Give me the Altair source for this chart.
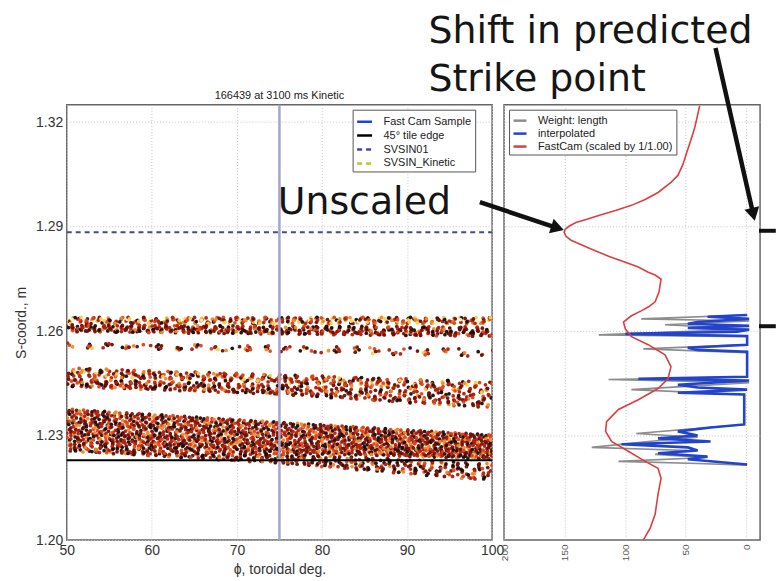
import altair as alt
import numpy as np
import pandas as pd

# ---------------- values ----------------
LEFT_TITLE = "166439 at 3100 ms Kinetic"
phi_ticks = [50, 60, 70, 80, 90, 100]
s_ticks = [1.20, 1.23, 1.26, 1.29, 1.32]
s_grid = [1.23, 1.26, 1.29, 1.32]
v_ticks = [200, 150, 100, 50, 0]

# left legend / reference lines
left_series = ["Fast Cam Sample", "45° tile edge", "SVSIN01", "SVSIN_Kinetic"]
left_colours = ["#2244dd", "#000000", "#4646a8", "#c2c22a"]
left_dashes = [[1, 0], [1, 0], [5, 4], [5, 4]]
fast_cam_phi = 75.0
tile_edge_s = 1.2229
svsin01_s = 1.2884

# strike-point scatter bands: lower / upper S edge at phi = 50, 75, 100 deg
band_phi_knots = [50, 75, 100]
band_lo = [[1.2621, 1.2621, 1.2621],
           [1.2598, 1.2591, 1.2584],
           [1.2552, 1.2540, 1.2526],
           [1.2469, 1.2452, 1.2420],
           [1.2440, 1.2418, 1.2378],
           [1.2283, 1.2249, 1.2232],
           [1.2255, 1.2220, 1.2169]]
band_hi = [[1.2640, 1.2640, 1.2640],
           [1.2618, 1.2615, 1.2612],
           [1.2566, 1.2558, 1.2549],
           [1.2495, 1.2475, 1.2455],
           [1.2463, 1.2446, 1.2418],
           [1.2378, 1.2340, 1.2303],
           [1.2283, 1.2249, 1.2220]]
band_count = [340, 440, 110, 360, 400, 1400, 460]
band_colour_pattern = ["5341250362143052416321453023154",
                       "1021320141023112031201410231021",
                       "21304215031240213",
                       "23142503124302514213",
                       "12031204132102310412",
                       "1203214012310241320142103",
                       "1023140213021031402"]
# hand-typed scatter offsets across a band (fraction of band width) and along phi
scatter_t = [0.52, 0.13, 0.88, 0.36, 0.71, 0.05, 0.94, 0.27, 0.61, 0.42, 0.83, 0.19,
             0.67, 0.31, 0.98, 0.09, 0.57, 0.75, 0.23, 0.46, 0.90, 0.02, 0.64, 0.38,
             0.80, 0.15, 0.55, 0.29, 0.96, 0.49, 0.11, 0.73, 0.34, 0.86, 0.07, 0.60, 0.25]
scatter_dphi = [0.3, -1.2, 0.9, -0.4, 1.4, -0.8, 0.1, 1.1, -1.4, 0.6, -0.1, 1.3,
                -0.6, 0.8, -1.0, 0.2, 1.2, -0.3, 0.7, -1.3, 0.4, -0.7, 1.0]
heat_keys = ["k", "dr", "r", "or", "o", "y", "w"]
heat_colours = ["#1c0c08", "#6e0e04", "#b01e08", "#d8461a", "#ee8a2a", "#f5d24a", "#fbf0c0"]

# right panel
right_series = ["Weight: length", "interpolated", "FastCam (scaled by 1/1.00)"]
right_colours = ["#8c8c8c", "#2244cc", "#d94040"]

fastcam_v = [38.4, 40.1, 42.5, 45.8, 49.1, 52.3, 56.4, 62.1, 72.8, 83.4, 94.8, 107.9,
             121.8, 131.6, 140.6, 146.4, 149.6, 150.4, 148.8, 144.7, 135.7, 127.6, 113.7,
             99.8, 89.1, 80.9, 75.2, 70.3, 71.1, 72.0, 75.2, 80.9, 86.7, 94.8, 101.4, 99.8,
             94.8, 80.9, 67.0, 62.1, 64.6, 72.8, 89.1, 105.5, 115.3, 116.1, 111.2, 99.8,
             83.4, 72.8, 70.3, 72.8, 75.2, 79.3, 85.0]
fastcam_s = [1.3247, 1.3221, 1.3184, 1.3147, 1.3113, 1.3078, 1.3047, 1.3027, 1.2998,
             1.2978, 1.2961, 1.2946, 1.2932, 1.2921, 1.2912, 1.2901, 1.2892, 1.2884,
             1.2872, 1.2861, 1.2847, 1.2835, 1.2815, 1.2798, 1.2784, 1.2769, 1.2761,
             1.2749, 1.2732, 1.2712, 1.2684, 1.2669, 1.2658, 1.2644, 1.2626, 1.2606,
             1.2584, 1.2561, 1.2532, 1.2498, 1.2463, 1.2435, 1.2403, 1.2375, 1.2340,
             1.2312, 1.2283, 1.2260, 1.2226, 1.2206, 1.2177, 1.2132, 1.2074, 1.2034, 1.2000]

interp_v = [-0.8, 31.9, -2.5, 40.1, 48.2, -2.5, 48.2, -2.5, 7.4, 99.8, -0.8, -0.8, 48.2,
            40.1, -0.8, -0.8, 89.1, -2.5, 56.4, 40.1, -0.8, 56.4, 1.6, 1.6, 29.4, 56.4,
            40.1, 72.8, 29.4, 103.0, 48.2, 40.1, 72.8, 31.9, 48.2, -0.8]
interp_s = [1.2646, 1.2641, 1.2635, 1.2626, 1.2621, 1.2615, 1.2609, 1.2604, 1.2598,
            1.2592, 1.2586, 1.2561, 1.2552, 1.2546, 1.2541, 1.2469, 1.2463, 1.2458,
            1.2446, 1.2438, 1.2432, 1.2423, 1.2418, 1.2332, 1.2323, 1.2312, 1.2300,
            1.2292, 1.2283, 1.2275, 1.2266, 1.2257, 1.2249, 1.2240, 1.2232, 1.2217]

weight_v = [-0.8, 86.7, -2.5, 67.0, -2.5, 121.8, -0.8, -0.8, 85.0, -0.8, -0.8, 113.7,
            -2.5, 94.8, 1.6, 1.6, 90.8, 40.1, 80.9, 127.6, 48.2, 75.2, 31.9, 105.5, 40.1, -0.8]
weight_s = [1.2646, 1.2635, 1.2629, 1.2618, 1.2606, 1.2589, 1.2584, 1.2561, 1.2549,
            1.2538, 1.2469, 1.2461, 1.2452, 1.2432, 1.2418, 1.2332, 1.2306, 1.2295,
            1.2283, 1.2266, 1.2257, 1.2246, 1.2237, 1.2226, 1.2220, 1.2215]

# annotations (slide overlay)
title_phi = [75.0]
title_s = [1.3266]
unscaled_text = ["Unscaled"]
unscaled_phi = [74.8]
unscaled_s = [1.2935]
shift_text = ["Shift in predicted", "Strike point"]
shift_v = [262.5, 262.5]
shift_s = [1.3427, 1.3290]
arrow_v = [220.0, 25.3]
arrow_s = [1.2970, 1.3413]
arrow_head_v = [155.8, -5.9]
arrow_head_s = [1.2896, 1.2935]
arrow_head_angle = [18, 77]
edge_mark_v = [-10.6, -10.6]
edge_mark_v2 = [-24.5, -24.5]
edge_mark_s = [1.2888, 1.2614]

# ---------------- tables ----------------
rows = []
for b in range(len(band_count)):
    pat = band_colour_pattern[b]
    n = band_count[b]
    step = 50.0 / n
    for i in range(n):
        phi = 50 + step * (i + 0.5) + 3.0 * step * scatter_dphi[(i + 5 * b) % len(scatter_dphi)]
        t = scatter_t[(i + 7 * b) % len(scatter_t)]
        lo = np.interp(phi, band_phi_knots, band_lo[b])
        hi = np.interp(phi, band_phi_knots, band_hi[b])
        rows.append({"phi": phi, "s": lo + t * (hi - lo),
                     "heat": heat_keys[int(pat[i % len(pat)])]})
df_sc = pd.DataFrame(rows)

df_ll = pd.DataFrame({
    "series": ["Fast Cam Sample", "45° tile edge", "45° tile edge", "SVSIN01", "SVSIN01", "SVSIN_Kinetic"],
    "phi": [fast_cam_phi, 50, 100, 50, 100, 50],
    "s": [1.2, tile_edge_s, tile_edge_s, svsin01_s, svsin01_s, 1.2],
    "ord": [0, 0, 1, 0, 1, 0],
})

df_r = pd.concat([
    pd.DataFrame({"series": right_series[0], "v": weight_v, "s": weight_s, "ord": range(len(weight_v))}),
    pd.DataFrame({"series": right_series[1], "v": interp_v, "s": interp_s, "ord": range(len(interp_v))}),
    pd.DataFrame({"series": right_series[2], "v": fastcam_v, "s": fastcam_s, "ord": range(len(fastcam_v))}),
])

df_title = pd.DataFrame({"text": [LEFT_TITLE], "phi": title_phi, "s": title_s})
df_unscaled = pd.DataFrame({"text": unscaled_text, "phi": unscaled_phi, "s": unscaled_s})
df_shift = pd.DataFrame({"text": shift_text, "v": shift_v, "s": shift_s})
df_arrow = pd.DataFrame({"v": arrow_v, "s": arrow_s, "v2": arrow_head_v, "s2": arrow_head_s,
                         "ang": arrow_head_angle})
df_edge = pd.DataFrame({"v": edge_mark_v, "v2": edge_mark_v2, "s": edge_mark_s})

# ---------------- left panel ----------------
LBL_FONT = "Liberation Sans"
ANN_FONT = "DejaVu Sans"

xL = alt.X("phi:Q", scale=alt.Scale(domain=[50, 100], nice=False, zero=False),
           axis=alt.Axis(values=phi_ticks, format="d", title="ϕ, toroidal deg.",
                         labelPadding=4, titlePadding=5, labelFlush=False, labelOverlap=False))
yL = alt.Y("s:Q", scale=alt.Scale(domain=[1.2, 1.325], nice=False, zero=False),
           axis=alt.Axis(values=s_ticks, format=".2f", title="S-coord., m",
                         labelPadding=4, titlePadding=7, labelFlush=False, labelOverlap=False))

anchor = alt.Chart(pd.DataFrame({"a": [0]})).mark_rule(strokeOpacity=0, strokeWidth=0.1).encode(
    x=alt.value(-66), x2=alt.value(713), y=alt.value(-103), y2=alt.value(478))

pts = alt.Chart(df_sc).mark_circle(size=14, opacity=0.95, clip=True).encode(
    x=xL, y=yL,
    fill=alt.Fill("heat:N", scale=alt.Scale(domain=heat_keys, range=heat_colours), legend=None))

vline = alt.Chart(pd.DataFrame({"phi": [fast_cam_phi]})).mark_rule(
    color="#a4a4cc", strokeWidth=2.5).encode(x="phi:Q")

legL = alt.Legend(orient="none", legendX=287, legendY=5, title=None, fillColor="white",
                  strokeColor="#555", padding=3, labelFont=LBL_FONT, labelFontSize=11,
                  labelColor="#222", symbolType="stroke", symbolSize=225, symbolStrokeWidth=2.5,
                  rowPadding=0, labelOffset=10, cornerRadius=0)
leglines = alt.Chart(df_ll).mark_line(strokeWidth=2).encode(
    x="phi:Q", y="s:Q",
    color=alt.Color("series:N", scale=alt.Scale(domain=left_series, range=left_colours), legend=legL),
    strokeDash=alt.StrokeDash("series:N", scale=alt.Scale(domain=left_series, range=left_dashes), legend=legL),
    detail="series:N", order="ord:Q")

title_mark = alt.Chart(df_title).mark_text(
    align="center", baseline="alphabetic", font=LBL_FONT, fontSize=11, color="#222").encode(
    x="phi:Q", y="s:Q", text="text:N")

unscaled = alt.Chart(df_unscaled).mark_text(
    align="left", baseline="alphabetic", font=ANN_FONT, fontSize=38, color="#151515").encode(
    x="phi:Q", y="s:Q", text="text:N")

left = alt.layer(anchor, pts, vline, leglines, title_mark, unscaled).properties(
    width=427, height=437)

# ---------------- right panel ----------------
xR = alt.X("v:Q", scale=alt.Scale(domain=[-11.5, 200], reverse=True, nice=False, zero=False),
           axis=alt.Axis(values=v_ticks, format="d", title=None, labelAngle=270, labelFontSize=10,
                         labelColor="#555", labelPadding=4, labelFlush=False, labelOverlap=False))
yR = alt.Y("s:Q", scale=alt.Scale(domain=[1.2, 1.325], nice=False, zero=False),
           axis=alt.Axis(values=s_grid, labels=False, title=None))

legR = alt.Legend(orient="none", legendX=5, legendY=5, title=None, fillColor="white",
                  strokeColor="#555", padding=3, labelFont=LBL_FONT, labelFontSize=11,
                  labelColor="#222", symbolType="stroke", symbolSize=170, symbolStrokeWidth=2.5,
                  rowPadding=0, labelOffset=10, cornerRadius=0)
colR = alt.Color("series:N", scale=alt.Scale(domain=right_series, range=right_colours), legend=legR)


def rline(name, w):
    return alt.Chart(df_r).transform_filter(alt.datum.series == name).mark_line(
        strokeWidth=w).encode(x=xR, y=yR, color=colR, order="ord:Q")


edge = alt.Chart(df_edge).mark_rule(color="#111", strokeWidth=4).encode(
    x="v:Q", x2="v2:Q", y="s:Q")
arrows = alt.Chart(df_arrow).mark_rule(color="#111", strokeWidth=4.5).encode(
    x="v:Q", x2="v2:Q", y="s:Q", y2="s2:Q")
heads = alt.Chart(df_arrow).mark_point(shape="triangle-right", filled=True, size=230,
                                       color="#111", opacity=1).encode(
    x="v2:Q", y="s2:Q", angle=alt.Angle("ang:Q", scale=None))
shift = alt.Chart(df_shift).mark_text(
    align="left", baseline="alphabetic", font=ANN_FONT, fontSize=38, color="#151515").encode(
    x="v:Q", y="s:Q", text="text:N")

right = alt.layer(rline(right_series[0], 1.6), rline(right_series[1], 2.6),
                  rline(right_series[2], 1.6), edge, arrows, heads, shift).properties(
    width=257, height=437)

chart = alt.hconcat(left, right, spacing=12, bounds="flush").resolve_scale(
    color="independent", strokeDash="independent"
).resolve_legend(
    color="independent", strokeDash="independent"
).properties(
    padding=0, autosize=alt.AutoSizeParams(type="pad"), background="white"
).configure_view(stroke="#666", strokeWidth=1.5).configure_axis(
    labelFont=LBL_FONT, titleFont=LBL_FONT, labelColor="#333", titleColor="#333",
    labelFontSize=14, titleFontSize=14, titleFontWeight="normal", domain=False, ticks=False,
    gridColor="#c4c4c4", gridDash=[1, 2], gridWidth=1
)

chart.save("out.html", embed_options={"renderer": "svg", "actions": False})
